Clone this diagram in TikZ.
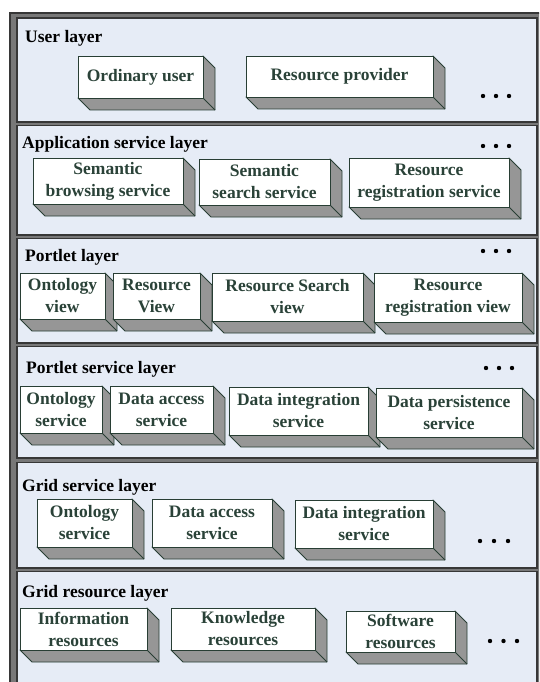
\documentclass[tikz,border=0pt]{standalone}
\usepackage{fontspec}
\setmainfont{Liberation Serif}
\definecolor{panelfill}{RGB}{230,236,246}
\definecolor{framegray}{RGB}{120,120,120}
\definecolor{darkline}{RGB}{55,55,55}
\definecolor{edgec}{RGB}{40,62,52}
\definecolor{sidegray}{RGB}{150,150,150}
\definecolor{boxtext}{RGB}{42,66,56}
\tikzset{
  panel/.style={fill=panelfill, draw=darkline, line width=1.3pt},
  layerlabel/.style={anchor=west, inner sep=0pt, font=\fontsize{17.5}{21}\selectfont\bfseries, text=black},
  face/.style={fill=white, draw=edgec, line width=0.9pt, inner sep=0pt, align=center,
    font=\fontsize{17.5}{22}\selectfont\bfseries, text=boxtext},
  side/.style={fill=sidegray, draw=edgec, line width=0.9pt, line join=round},
  dotmark/.style={fill=black, draw=none}
}
% #1 name, #2 x1, #3 y1, #4 x2, #5 y2, #6 text
\newcommand{\cubebox}[6]{%
  \filldraw[side] (#4,#3) -- (#4+12,#3+12) -- (#4+12,#5+12) -- (#2+12,#5+12) -- (#2,#5) -- (#4,#5) -- cycle;
  \draw[edgec, line width=0.9pt] (#4,#5) -- (#4+12,#5+12);
  \node[face, minimum width={(#4-#2)*1pt}, minimum height={(#5-#3)*1pt}] (#1) at ({(#2+#4)/2},{(#3+#5)/2}) {#6};
}
\newcommand{\threedots}[4]{% name prefix, x, y, spacing
  \fill[dotmark] (#2,#3) circle (2.2) coordinate (#1a);
  \fill[dotmark] (#2+#4,#3) circle (2.2) coordinate (#1b);
  \fill[dotmark] (#2+2*#4,#3) circle (2.2) coordinate (#1c);
}
\begin{document}
\begin{tikzpicture}[x=1pt, y=-1pt]
\useasboundingbox (0,0) rectangle (539,682);
\clip (0,0) rectangle (539,682);
\fill[white] (0,0) rectangle (539,682);
% outer frame
\filldraw[fill=framegray, draw=darkline, line width=1.5pt] (10,13) rectangle (560,700);
% panels
\draw[panel] (17,18) rectangle (537,122);
\draw[panel] (17,125.5) rectangle (537,235);
\draw[panel] (17,238.5) rectangle (537,343);
\draw[panel] (17,346.5) rectangle (537,458);
\draw[panel] (17,462.5) rectangle (537,568);
\draw[panel] (17,571.5) rectangle (537,700);
% labels
\node[layerlabel] (l1) at (25,38) {User layer};
\node[layerlabel] (l2) at (22,144) {Application service layer};
\node[layerlabel] (l3) at (25,257) {Portlet layer};
\node[layerlabel] (l4) at (26,369) {Portlet service layer};
\node[layerlabel] (l5) at (22,487) {Grid service layer};
\node[layerlabel] (l6) at (22,593) {Grid resource layer};
% user layer
\cubebox{ou}{78}{56}{203}{98}{Ordinary user}
\cubebox{rp}{246}{56}{433}{97}{Resource provider}
\threedots{d1}{483}{96}{13}
% application service layer
\cubebox{sbs}{33}{158}{183}{204}{Semantic\\browsing service}
\cubebox{sss}{199}{159}{330}{205}{Semantic\\search service}
\cubebox{rrs}{349}{158}{509}{207}{Resource\\registration service}
\threedots{d2}{483}{146}{13}
% portlet layer
\cubebox{ov}{20}{273}{105}{319}{Ontology\\view}
\cubebox{rv}{113}{273}{200}{319}{Resource\\View}
\cubebox{rsv}{212}{273}{363}{321}{Resource Search\\view}
\cubebox{rrv}{374}{273}{522}{322}{Resource\\registration view}
\threedots{d3}{483}{251}{13}
% portlet service layer
\cubebox{os}{20}{386}{102}{433}{Ontology\\service}
\cubebox{das}{110}{386}{213}{433}{Data access\\service}
\cubebox{dis}{229}{387}{368}{435}{Data integration\\service}
\cubebox{dps}{376}{388}{522}{437}{Data persistence\\service}
\threedots{d4}{486}{368}{13}
% grid service layer
\cubebox{gos}{37}{499}{132}{547}{Ontology\\service}
\cubebox{gdas}{152}{499}{272}{547}{Data access\\service}
\cubebox{gdis}{295}{500}{433}{548}{Data integration\\service}
\threedots{d5}{480}{541}{14}
% grid resource layer
\cubebox{ir}{20}{608}{147}{650}{Information\\resources}
\cubebox{kr}{171}{608}{315}{650}{Knowledge\\resources}
\cubebox{sr}{346}{611}{455}{652}{Software\\resources}
\threedots{d6}{490}{641}{13.5}
\end{tikzpicture}
\end{document}
